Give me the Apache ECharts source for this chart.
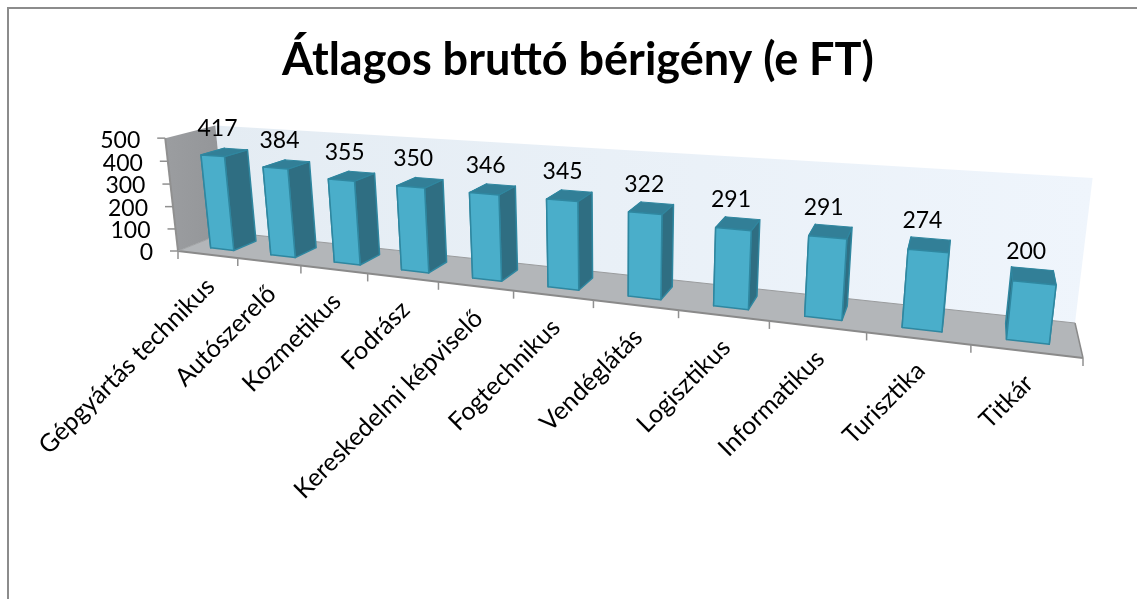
<!DOCTYPE html>
<html><head><meta charset="utf-8">
<style>html,body{margin:0;padding:0;background:#fff}#c{width:1137px;height:599px}</style>
<script src="https://cdn.jsdelivr.net/npm/echarts@6/dist/echarts.min.js"></script>
</head><body><div id="c"></div>
<script>
const categories = ["Gépgyártás technikus","Autószerelő","Kozmetikus","Fodrász","Kereskedelmi képviselő","Fogtechnikus","Vendéglátás","Logisztikus","Informatikus","Turisztika","Titkár"];
const values = [417,384,355,350,346,345,322,291,291,274,200];
const yTicks = [0,100,200,300,400,500];
const titleText = "Átlagos bruttó bérigény (e FT)";
const FONT = 'Lato, "Open Sans", sans-serif';

// Perspective of the 3D box: floor plane (front-left, front-right, back-right, back-left) and wall tops
const floorQuad = [[178,251],[1083,358],[1075,323],[226,232]];
const topRefs = [[0,0,163,137],[0,0,163,137],[0,0,163,137],[0,1,222,128],[1,1,1092,179]];
const barFront = 0.27, barBack = 0.75, barLeft = 0.33, barRight = 0.72;

function homography(q){
  const [x0,y0]=q[0],[x1,y1]=q[1],[x2,y2]=q[2],[x3,y3]=q[3];
  const dx1=x1-x2,dx2=x3-x2,sx=x0-x1+x2-x3,dy1=y1-y2,dy2=y3-y2,sy=y0-y1+y2-y3;
  const den=dx1*dy2-dx2*dy1,g=(sx*dy2-dx2*sy)/den,h=(dx1*sy-sx*dy1)/den;
  return {a:x1-x0+g*x1,b:x3-x0+h*x3,c:x0,d:y1-y0+g*y1,e:y3-y0+h*y3,f:y0,g,h};
}
const H=homography(floorQuad);
// least squares for the vertical column (p,q,r) of the projection
function fitVertical(){
  const A=[[0,0,0],[0,0,0],[0,0,0]],B=[0,0,0];
  const add=(row,rhs)=>{for(let i=0;i<3;i++){B[i]+=row[i]*rhs;for(let j=0;j<3;j++)A[i][j]+=row[i]*row[j];}};
  topRefs.forEach(([u,w,X,Y])=>{
    const D=H.g*u+H.h*w+1,Nx=H.a*u+H.b*w+H.c,Ny=H.d*u+H.e*w+H.f;
    add([1,0,-X],X*D-Nx); add([0,1,-Y],Y*D-Ny);
  });
  for(let i=0;i<3;i++){for(let k=i+1;k<3;k++){const m=A[k][i]/A[i][i];for(let j=i;j<3;j++)A[k][j]-=m*A[i][j];B[k]-=m*B[i];}}
  const s=[0,0,0];
  for(let i=2;i>=0;i--){let t=B[i];for(let j=i+1;j<3;j++)t-=A[i][j]*s[j];s[i]=t/A[i][i];}
  return s;
}
const [Vp,Vq,Vr]=fitVertical();
function P(u,w,h){
  const t=H.g*u+H.h*w+1+Vr*h;
  return [(H.a*u+H.b*w+H.c+Vp*h)/t,(H.d*u+H.e*w+H.f+Vq*h)/t];
}
function poly(points,fill,stroke,lw){
  return {type:'polygon',shape:{points},style:{fill,stroke:stroke||'none',lineWidth:lw||0,lineJoin:'round'}};
}
function line(a,b,color,lw){
  return {type:'line',shape:{x1:a[0],y1:a[1],x2:b[0],y2:b[1]},style:{stroke:color,lineWidth:lw}};
}
function frac(params,api,i,v){
  const cs=params.coordSys,c=api.coord([i,v]),bw=api.size([1,0])[0];
  return {u:(c[0]-cs.x)/cs.width,du:bw/cs.width,h:(cs.y+cs.height-c[1])/cs.height};
}

function renderBox(params,api){
  const kids=[];
  kids.push(poly([P(0,1,0),P(1,1,0),P(1,1,1),P(0,1,1)],
    new echarts.graphic.LinearGradient(0,0,1,0,[{offset:0,color:'#e4ecf3'},{offset:1,color:'#eff5fc'}])));
  kids.push(poly([P(0,0,0),P(0,1,0),P(0,1,1),P(0,0,1)],
    new echarts.graphic.LinearGradient(0,0,1,0,[{offset:0,color:'#9b9da0'},{offset:1,color:'#939598'}])));
  kids.push(poly([P(0,0,0),P(1,0,0),P(1,1,0),P(0,1,0)],'#b3b6b9'));
  kids.push(line(P(0,0,0),P(1,0,0),'#8a8a8a',2));
  kids.push(line(P(1,0,0),P(1,1,0),'#8a8a8a',1.5));
  kids.push(line(P(0,1,0),P(1,1,0),'#9a9c9e',1));
  kids.push(line(P(0,0,0),P(0,0,1),'#909090',2));
  kids.push(line(P(0,0,0),P(0,1,0),'#a0a2a4',1));
  yTicks.forEach(v=>{
    const f=frac(params,api,0,v),p=P(0,0,f.h);
    kids.push(line(p,[p[0]-8,p[1]],'#909090',1.5));
    kids.push({type:'text',x:p[0]-25,y:p[1]+2,style:{text:String(v),align:'right',verticalAlign:'middle',font:'23px '+FONT,fill:'#000'}});
  });
  for(let i=0;i<=categories.length;i++){
    const p=P(i/categories.length,0,0);
    kids.push(line(p,[p[0],p[1]+8],'#909090',1.5));
  }
  return {type:'group',children:kids};
}

function renderBar(params,api){
  const i=api.value(0),v=api.value(1);
  const f=frac(params,api,i,v);
  const u0=f.u-f.du/2,uL=u0+f.du*barLeft,uR=u0+f.du*barRight,h=f.h;
  const a=P(uL,barFront,0),b=P(uR,barFront,0),c=P(uR,barBack,0),d=P(uL,barBack,0);
  const a2=P(uL,barFront,h),b2=P(uR,barFront,h),c2=P(uR,barBack,h),d2=P(uL,barBack,h);
  const edge='#2f87a0',side='#2f6e82',top='#327f97';
  const kids=[
    poly([a,d,d2,a2],side,edge,1.5),
    poly([b,c,c2,b2],side,edge,1.5),
    poly([a2,b2,c2,d2],top,edge,1),
    poly([a,b,b2,a2],'#4aaeca',edge,1.5)
  ];
  const lp=P(f.u+f.du*((barLeft+barRight)/2-0.5),(barFront+barBack)/2,h);
  kids.push({type:'text',x:lp[0]-7,y:lp[1]-24,style:{text:String(v),align:'center',verticalAlign:'middle',font:'23px '+FONT,fill:'#000'}});
  const t=P(f.u,0,0);
  kids.push({type:'text',x:t[0]+3,y:t[1]+28,rotation:Math.PI/4,style:{text:categories[i],align:'right',verticalAlign:'middle',font:'25px '+FONT,fill:'#000'}});
  return {type:'group',children:kids};
}

const chart=echarts.init(document.getElementById('c'),null,{renderer:'canvas'});
chart.setOption({
  animation:false,
  backgroundColor:'#fff',
  title:{text:titleText,left:573,top:33,textAlign:'center',textStyle:{fontFamily:FONT,fontWeight:'bold',fontSize:45,color:'#000'}},
  grid:{left:160,top:137,width:900,height:113},
  xAxis:{type:'category',data:categories,show:false},
  yAxis:{type:'value',min:0,max:500,interval:100,show:false},
  graphic:[
    {type:'polyline',shape:{points:[[8,599],[8,8],[1137,8]]},style:{stroke:'#8c8c8c',lineWidth:2,fill:'none'},silent:true}
  ],
  series:[
    {type:'custom',coordinateSystem:'cartesian2d',renderItem:renderBox,data:[[0,0]],clip:false,silent:true,z:1},
    {type:'custom',coordinateSystem:'cartesian2d',renderItem:renderBar,encode:{x:0,y:1},
      data:values.map((v,i)=>[i,v]),clip:false,silent:true,z:2}
  ]
});
</script></body></html>
